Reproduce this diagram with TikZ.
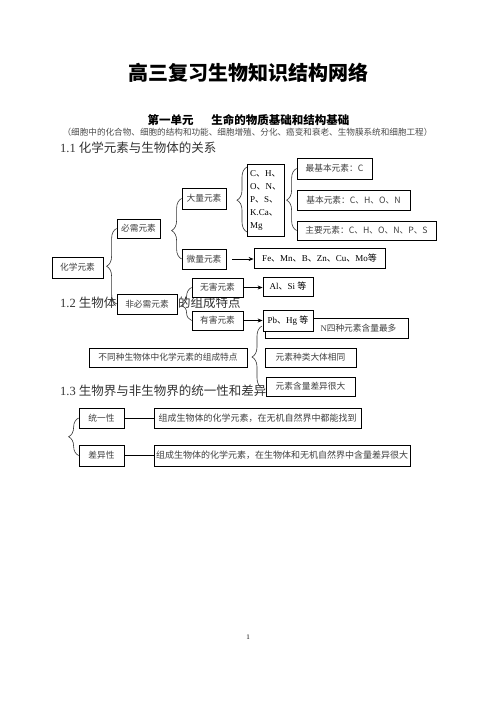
\documentclass[tikz,border=0pt]{standalone}
\usepackage{fontspec}
\setmainfont{Liberation Serif}
\newfontfamily\cjk{Noto Sans CJK SC}
\usetikzlibrary{arrows.meta,decorations.pathreplacing}
\newcommand\latn[1]{{\rmfamily #1}}
\newcommand\fs[1]{\fontsize{#1}{#1}\selectfont}
\tikzset{
  bx/.style={draw=black, line width=0.8pt, fill=white, inner sep=0pt, text=black!75, font=\cjk\fs{8.7}},
  hd/.style={anchor=west, inner sep=0pt, text=black!80, font=\fs{12.5}},
  brc/.style={draw=black!80, line width=0.6pt, decorate, decoration={brace, amplitude=10pt, aspect=#1}},
  brc/.default=0.5,
  arr/.style={line width=0.8pt, -{Stealth[length=5pt,width=4pt]}},
  ln/.style={line width=0.8pt},
}
\begin{document}
\begin{tikzpicture}[x=1pt,y=-1pt]
\useasboundingbox[fill=white] (0,0) rectangle (496,702);
% titles
\node[font=\cjk\bfseries\fs{20}, inner sep=0pt] (title) at (248,73) {高三复习生物知识结构网络};
\node[font=\cjk\bfseries\fs{11.5}, inner sep=0pt] (unit) at (248.5,120) {第一单元\hspace{18pt}生命的物质基础和结构基础};
\node[font=\cjk\fs{8.6}, text=black!70, inner sep=0pt] (sub) at (247.5,132.5) {（细胞中的化合物、细胞的结构和功能、细胞增殖、分化、癌变和衰老、生物膜系统和细胞工程）};
\node[hd] (h1) at (60,148) {1.1 {\cjk 化学元素与生物体的关系}};
\node[hd] (h2a) at (60,303) {1.2 {\cjk 生物体}};
\node[hd] (h2b) at (178,303) {\cjk 的组成特点};
\node[hd] (h3) at (60,391) {1.3 {\cjk 生物界与非生物界的统一性和差异}};
% section 1.1
\node[bx, minimum width=51pt, minimum height=21pt] (hx) at (77.5,267.5) {化学元素};
\node[bx, minimum width=43pt, minimum height=19pt] (bx) at (138.5,228.5) {必需元素};
\node[bx, minimum width=60pt, minimum height=20pt] (fb) at (147,304) {非必需元素};
\node[bx, minimum width=44pt, minimum height=21pt] (dl) at (204,198.5) {大量元素};
\node[bx, minimum width=44pt, minimum height=20pt] (wl) at (204,259) {微量元素};
\node[bx, minimum width=37pt, minimum height=72pt, align=left, font=\cjk\fontsize{9}{13}\selectfont, text=black] (ch) at (265.5,200)
  {\latn{C}、\latn{H}、\\\latn{O}、\latn{N}、\\\latn{P}、\latn{S}、\\\latn{K.Ca}、\\\latn{Mg}};
\node[bx, minimum width=75pt, minimum height=21pt] (z1) at (334.5,168.5) {最基本元素：C};
\node[bx, minimum width=113pt, minimum height=20pt] (z2) at (353.5,200) {基本元素：C、H、O、N};
\node[bx, minimum width=139pt, minimum height=19pt] (z3) at (366.5,230.5) {主要元素：C、H、O、N、P、S};
\node[bx, minimum width=131pt, minimum height=20pt, font=\cjk\fs{9}, text=black] (fe) at (319.5,258) {\latn{Fe}、\latn{Mn}、\latn{B}、\latn{Zn}、\latn{Cu}、\latn{Mo}等};
% section 1.2
\node[bx, minimum width=51pt, minimum height=19pt] (wh) at (217.5,287.5) {无害元素};
\node[bx, minimum width=51pt, minimum height=19pt] (yh) at (217.5,320.5) {有害元素};
\node[bx, minimum width=50pt, minimum height=19pt, font=\cjk\fs{9}, text=black] (al) at (288,286.5) {\latn{Al}、\latn{Si} 等};
\node[bx, minimum width=143pt, minimum height=20pt] (n4) at (336.5,328) {};
\node[font=\cjk\fs{8.7}, text=black!75, inner sep=0pt] (n4t) at (358.5,328.5) {\latn{N}四种元素含量最多};
\node[bx, minimum width=50pt, minimum height=21pt, font=\cjk\fs{9}, text=black] (pb) at (288,320.5) {\latn{Pb}、\latn{Hg} 等};
\node[bx, minimum width=158pt, minimum height=19pt] (bt) at (168,357.5) {不同种生物体中化学元素的组成特点};
\node[bx, minimum width=91pt, minimum height=19pt] (zl) at (310.5,357.5) {元素种类大体相同};
\node[bx, minimum width=89pt, minimum height=19pt] (hl) at (310.5,386.5) {元素含量差异很大};
% section 1.3
\node[bx, minimum width=45pt, minimum height=20pt] (ty) at (101.5,418) {统一性};
\node[bx, minimum width=45pt, minimum height=21pt] (cy) at (101.5,455.5) {差异性};
\node[bx, minimum width=207pt, minimum height=20pt, font=\cjk\fs{9}] (t1) at (257.5,418) {组成生物体的化学元素，在无机自然界中都能找到};
\node[bx, minimum width=256pt, minimum height=21pt, font=\cjk\fs{9}] (t2) at (282,455.5) {组成生物体的化学元素，在生物体和无机自然界中含量差异很大};
% braces
\draw[brc=0.5] (fb.west) -- (bx.west);
\draw[brc=0.47] (wl.west) -- (dl.west);
\draw[brc=0.49] (247,232) -- (247,167);
\draw[brc=0.49] (z3.west) -- (z1.west);
\draw[brc=0.46] (yh.west) -- (wh.west);
\draw[brc=0.5] (262,388) -- (262,326);
\draw[brc=0.5] (cy.west) -- (ty.west);
% arrows and lines
\draw[arr, shorten <=6pt] (wl.east) -- (fe.west |- wl.east);
\draw[arr] (wh.east) -- (al.west |- wh.east);
\draw[arr] (yh.east) -- (pb.west |- yh.east);
\draw[ln] (ty) -- (t1);
\draw[ln] (cy) -- (t2);
% page number
\node[font=\fs{7}, inner sep=0pt] (pg) at (248,637) {1};
\end{tikzpicture}
\end{document}
